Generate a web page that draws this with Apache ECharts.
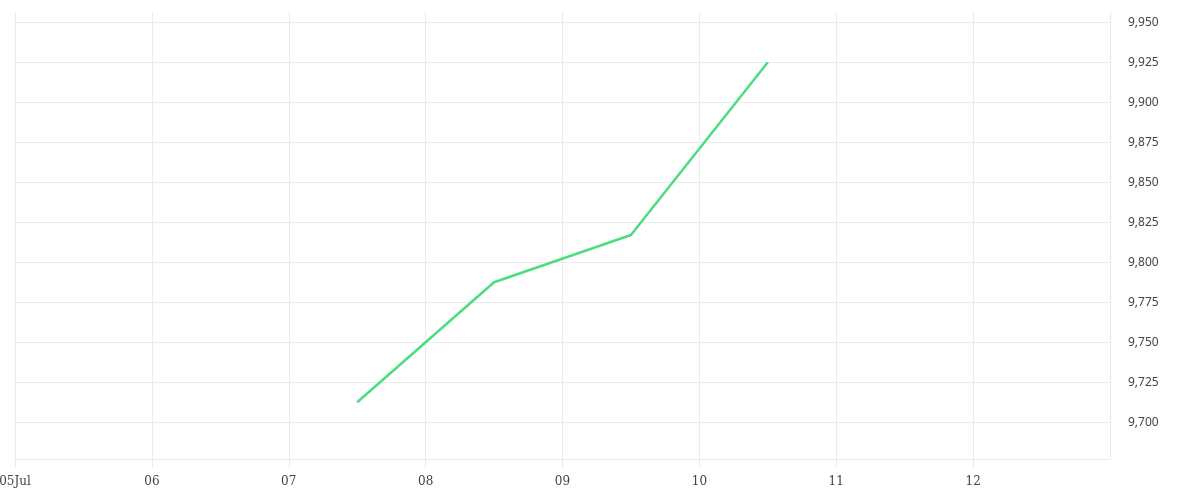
<!DOCTYPE html>
<html>
<head>
<meta charset="utf-8">
<script src="https://cdn.jsdelivr.net/npm/echarts@6/dist/echarts.min.js"></script>
<style>html,body{margin:0;padding:0;background:#fff}#c{width:1200px;height:500px}</style>
</head>
<body>
<div id="c"></div>
<script>
const dates = ['2024-07-07T12:00:00Z', '2024-07-08T12:00:00Z', '2024-07-09T12:00:00Z', '2024-07-10T12:00:00Z'];
const values = [9712.5, 9787.5, 9817, 9925];
const xStart = '2024-07-05T00:00:00Z';
const xEnd = '2024-07-13T00:00:00Z';
const yMin = 9677;
const yMax = 9956.4;
const yStep = 25;
const DAY = 86400000;

const chart = echarts.init(document.getElementById('c'));
chart.setOption({
  animation: false,
  grid: { left: 15, right: 90, top: 12, bottom: 41, containLabel: false, outerBoundsMode: 'none' },
  xAxis: {
    type: 'value',
    min: Date.parse(xStart),
    max: Date.parse(xEnd),
    interval: DAY,
    axisLine: { show: true, lineStyle: { color: '#ebebeb', width: 1 } },
    axisTick: { show: true, length: 9, lineStyle: { color: '#ebebeb' } },
    splitLine: { show: true, lineStyle: { color: '#ebebeb', width: 1 } },
    axisLabel: {
      margin: 17,
      fontFamily: 'DejaVu Serif',
      fontSize: 12,
      color: '#444',
      showMaxLabel: false,
      formatter: function (v) {
        const d = new Date(v);
        const dd = String(d.getUTCDate()).padStart(2, '0');
        if (d.getUTCDate() === 13) return '';
        return d.getUTCDate() === 5 ? dd + 'Jul' : dd;
      }
    }
  },
  yAxis: {
    type: 'value',
    position: 'right',
    min: yMin,
    max: yMax,
    minInterval: yStep,
    maxInterval: yStep,
    axisLine: { show: false },
    axisTick: { show: false },
    splitLine: { show: true, showMinLine: false, showMaxLine: false, lineStyle: { color: '#ebebeb', width: 1 } },
    axisLabel: {
      margin: 18,
      fontFamily: 'Noto Sans',
      fontSize: 12,
      color: '#444',
      showMinLabel: false,
      showMaxLabel: false,
      formatter: function (v) { return v.toLocaleString('en-US'); }
    }
  },
  series: [{
    type: 'line',
    data: dates.map((d, i) => [Date.parse(d), values[i]]),
    showSymbol: false,
    symbol: 'none',
    lineStyle: { color: '#4ade80', width: 2.5 },
    itemStyle: { color: '#4ade80' }
  }]
});
</script>
</body>
</html>
